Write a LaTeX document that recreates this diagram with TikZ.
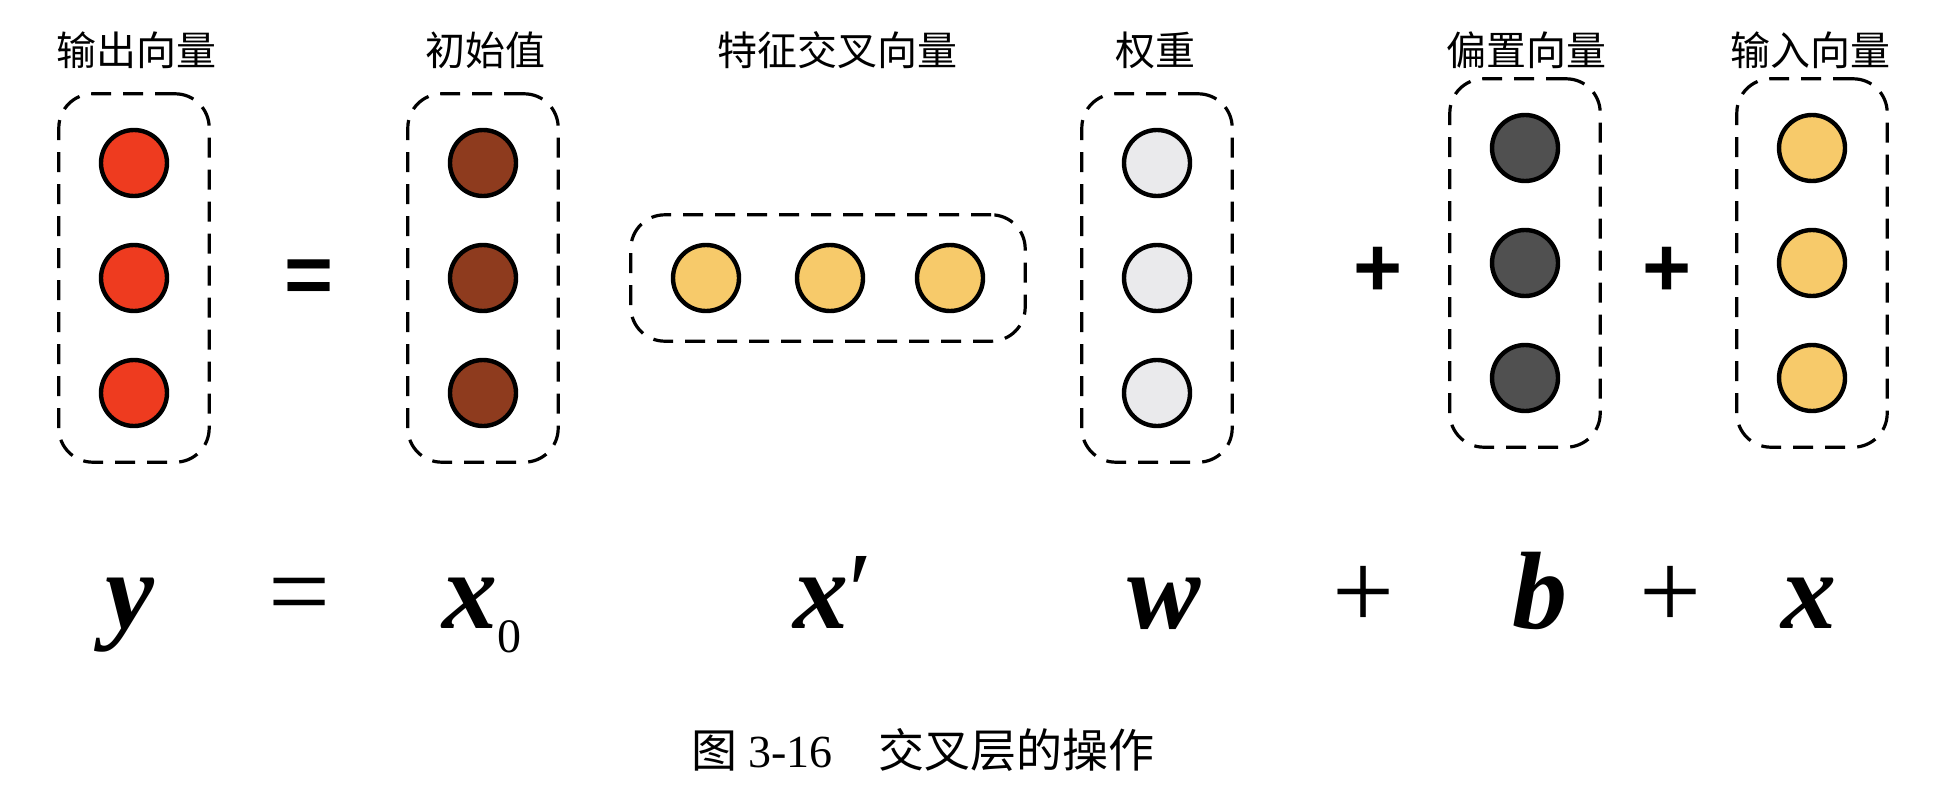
\documentclass[tikz,border=0pt]{standalone}
\usepackage{fontspec}
\setmainfont{Liberation Serif}
\newfontfamily\cjk{Noto Sans CJK SC}
\newfontfamily\opfont{Liberation Sans}
\usetikzlibrary{fit}
\definecolor{outred}{RGB}{238,59,31}
\definecolor{initbrown}{RGB}{142,59,30}
\definecolor{inyellow}{RGB}{247,202,106}
\definecolor{wgray}{RGB}{234,234,236}
\definecolor{biasgray}{RGB}{80,80,80}
\begin{document}
\begin{tikzpicture}[x=0.5pt, y=-0.5pt,
  ball/.style={circle, draw=black, line width=2.2pt, minimum size=33pt, inner sep=0pt},
  vecbox/.style={draw, dash pattern=on 10pt off 6pt, line width=1.6pt,
    rounded corners=17pt, inner xsep=20pt, inner ysep=17pt},
  tag/.style={font=\cjk\fontsize{20}{20}\selectfont},
  sym/.style={font=\fontsize{55}{55}\selectfont\bfseries\itshape, anchor=base},
  op/.style={font=\fontsize{55}{55}\selectfont, anchor=base},
  bigop/.style={font=\opfont\bfseries\fontsize{42}{42}\selectfont}]
  \useasboundingbox (0,0) rectangle (1936,791);
  % vectors
  \foreach \i/\r in {1/163,2/278,3/393} {
    \node[ball, fill=outred] (y\i) at (134,\r) {};
    \node[ball, fill=initbrown] (xz\i) at (483,\r) {};
    \node[ball, fill=wgray] (w\i) at (1157,\r) {};
  }
  \foreach \i/\r in {1/148,2/263,3/378} {
    \node[ball, fill=biasgray] (b\i) at (1525,\r) {};
    \node[ball, fill=inyellow] (x\i) at (1812,\r) {};
  }
  \foreach \i/\c in {1/706,2/830,3/950}
    \node[ball, fill=inyellow] (xp\i) at (\c,278) {};
  \node[vecbox, fit=(y1)(y3)] (ybox) {};
  \node[vecbox, fit=(xz1)(xz3)] (xzbox) {};
  \node[vecbox, inner ysep=14pt, fit=(xp1)(xp3)] (xpbox) {};
  \node[vecbox, fit=(w1)(w3)] (wbox) {};
  \node[vecbox, fit=(b1)(b3)] (bbox) {};
  \node[vecbox, fit=(x1)(x3)] (xbox) {};
  % labels
  \node[tag] (ylab) at (136,50) {输出向量};
  \node[tag] (xzlab) at (485,50) {初始值};
  \node[tag] (xplab) at (837,50) {特征交叉向量};
  \node[tag] (wlab) at (1155,50) {权重};
  \node[tag] (blab) at (1526,50) {偏置向量};
  \node[tag] (xlab) at (1810,50) {输入向量};
  \node[bigop] (eq) at (309,282) {=};
  \node[bigop] (plusa) at (1378,272) {+};
  \node[bigop] (plusb) at (1667,272) {+};
  % formula
  \node[sym] (ysym) at (130,628) {y};
  \node[op] (eqsym) at (300,628) {=};
  \node[sym] (xzsym) at (482,628) {x\raisebox{-12pt}{\fontsize{24}{24}\selectfont\mdseries\upshape 0}};
  \node[sym] (xpsym) at (833,628) {x{\mdseries\upshape ′}};
  \node[sym] (wsym) at (1164,628) {w};
  \node[op] (plussyma) at (1363,628) {+};
  \node[sym] (bsym) at (1540,628) {b};
  \node[op] (plussymb) at (1670,628) {+};
  \node[sym] (xsym) at (1809,628) {x};
  \node[font=\fontsize{23}{23}\selectfont] (cap) at (923,750) {{\cjk 图} 3-16\quad{\cjk 交叉层的操作}};
\end{tikzpicture}
\end{document}
